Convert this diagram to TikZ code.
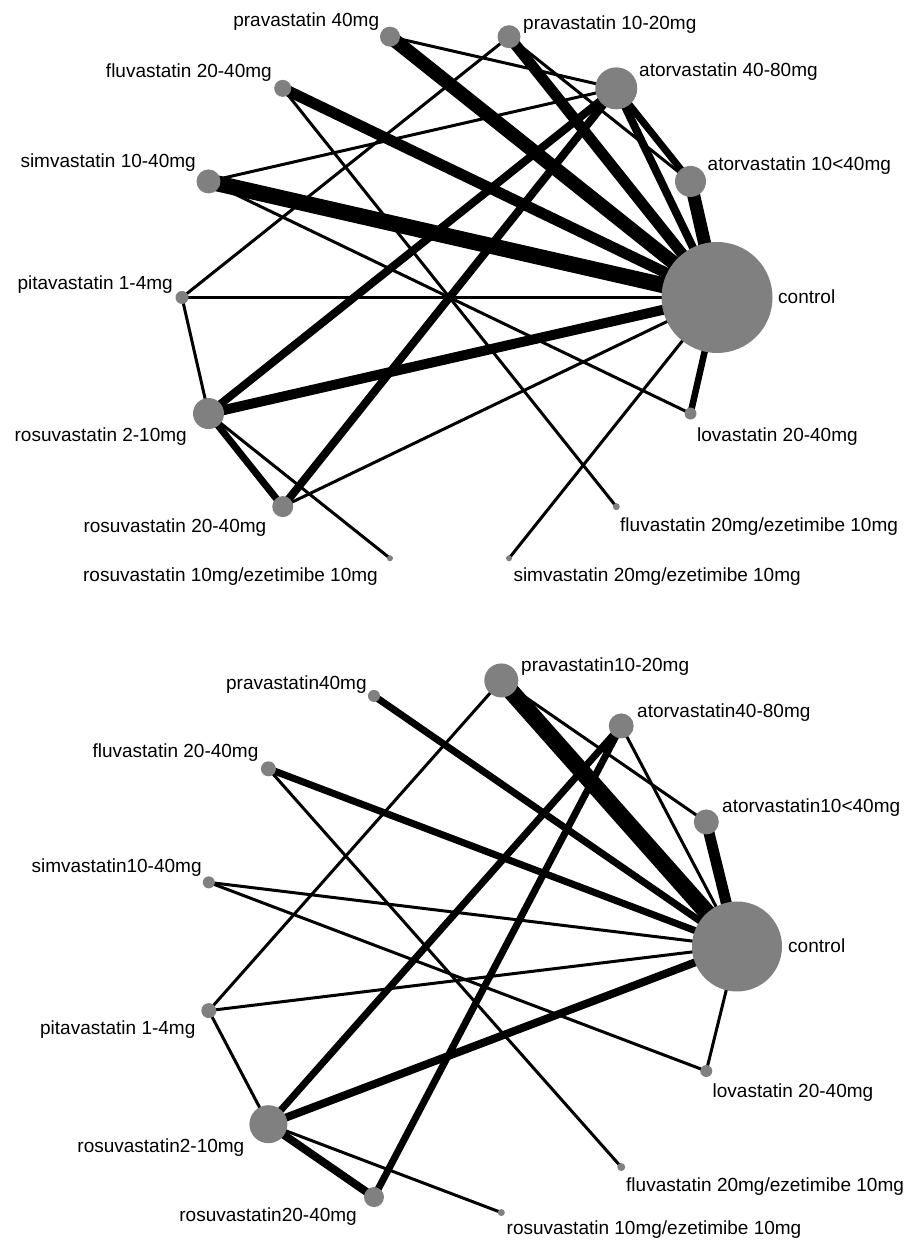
\documentclass[tikz,border=0pt]{standalone}
\usepackage{fontspec}
\setmainfont{Liberation Sans}
\usepackage{tikz}
\usetikzlibrary{backgrounds}
\usepackage{xcolor}
\definecolor{nodegray}{HTML}{808080}
\tikzset{
  drug/.style={circle, fill=nodegray, inner sep=0pt, outer sep=0pt},
  link/.style={draw=black, line cap=round},
  lbl/.style={inner sep=0pt, text=black},
  lblleft/.style={lbl, anchor=base east},
  lblright/.style={lbl, anchor=base west}
}

\begin{document}
\begin{tikzpicture}[x=1pt, y=1pt, font=\fontsize{19}{22}\selectfont]
  \useasboundingbox (0,0) rectangle (909,1241);

  \begin{scope}[shift={(449.5,943.5)}]
    \foreach \nm/\k/\d in {tCtrl/0/111, tA1040/1/31, tA4080/2/42, tP1020/3/23, tP40/4/20,
        tF2040/5/17, tS1040/6/24, tPit/7/13, tR210/8/31, tR2040/9/21, tR10E/10/6,
        tS20E/11/6, tF20E/12/7, tLov/13/12}
      \node[drug, minimum size=\d] (\nm) at (\k*360/14:267.5) {};
  \end{scope}

  \begin{scope}[shift={(469,294.5)}]
    \foreach \nm/\k/\d in {bCtrl/0/90, bA1040/1/25, bA4080/2/25, bP1020/3/34, bP40/4/12,
        bF2040/5/15, bS1040/6/12, bPit/7/15, bR210/8/38, bR2040/9/20, bR10E/10/7,
        bF20E/11/8, bLov/12/12}
      \node[drug, minimum size=\d] (\nm) at (\k*360/13:268) {};
  \end{scope}

  \begin{scope}[on background layer]
    \fill[white] (0,0) rectangle (909,1241);
    \foreach \a/\b/\w in {tP40/tCtrl/14, tP40/tA4080/3, tP1020/tCtrl/11, tP1020/tPit/3,
        tP1020/tA1040/3, tF2040/tCtrl/11, tF2040/tF20E/3, tS1040/tCtrl/16, tS1040/tA4080/3,
        tS1040/tLov/3, tPit/tCtrl/3, tPit/tR210/3, tR210/tCtrl/10, tR210/tA4080/8,
        tR210/tR2040/7, tR210/tR10E/3, tR2040/tA4080/8, tR2040/tCtrl/3, tS20E/tCtrl/3,
        tLov/tCtrl/6.5, tA1040/tCtrl/13, tA4080/tCtrl/8, tA4080/tA1040/7}
      \draw[link, line width=\w] (\a.center) -- (\b.center);
    \foreach \a/\b/\w in {bP40/bCtrl/7, bP1020/bCtrl/17, bP1020/bPit/3, bP1020/bA1040/3,
        bA4080/bR210/7, bA4080/bR2040/7, bA4080/bCtrl/3, bA1040/bCtrl/11, bF2040/bCtrl/7,
        bF2040/bF20E/3, bS1040/bCtrl/3, bS1040/bLov/3, bPit/bCtrl/3, bPit/bR210/3,
        bR210/bCtrl/8, bR210/bR2040/8, bR210/bR10E/3, bLov/bCtrl/3}
      \draw[link, line width=\w] (\a.center) -- (\b.center);
  \end{scope}

  \node[lblleft] (lP40) at (379.3,1214.3) {pravastatin 40mg};
  \node[lblright] (lP1020) at (523,1211.5) {pravastatin 10-20mg};
  \node[lblleft] (lF2040) at (272,1163.5) {fluvastatin 20-40mg};
  \node[lblright] (lA4080) at (639,1164.5) {atorvastatin 40-80mg};
  \node[lblleft] (lS1040) at (196,1073) {simvastatin 10-40mg};
  \node[lblright] (lA1040) at (707.5,1070) {atorvastatin 10<40mg};
  \node[lblleft] (lPit) at (173,951) {pitavastatin 1-4mg};
  \node[lblright] (lCtrl) at (778,937) {control};
  \node[lblleft] (lR210) at (187,799) {rosuvastatin 2-10mg};
  \node[lblright] (lLov) at (697,799) {lovastatin 20-40mg};
  \node[lblleft] (lR2040) at (266.5,708) {rosuvastatin 20-40mg};
  \node[lblright] (lF20E) at (620,709) {fluvastatin 20mg/ezetimibe 10mg};
  \node[lblleft] (lR10E) at (378,659) {rosuvastatin 10mg/ezetimibe 10mg};
  \node[lblright] (lS20E) at (513.3,659) {simvastatin 20mg/ezetimibe 10mg};

  \node[lblright] (lbP1020) at (521,569.3) {pravastatin10-20mg};
  \node[lblleft] (lbP40) at (366.8,551) {pravastatin40mg};
  \node[lblright] (lbA4080) at (637,523) {atorvastatin40-80mg};
  \node[lblleft] (lbF2040) at (258.6,483) {fluvastatin 20-40mg};
  \node[lblright] (lbA1040) at (722,428) {atorvastatin10<40mg};
  \node[lblleft] (lbS1040) at (201.8,368) {simvastatin10-40mg};
  \node[lblright] (lbCtrl) at (788,288) {control};
  \node[lblleft] (lbPit) at (195.6,206) {pitavastatin 1-4mg};
  \node[lblright] (lbLov) at (712.5,143) {lovastatin 20-40mg};
  \node[lblleft] (lbR210) at (244.5,88) {rosuvastatin2-10mg};
  \node[lblright] (lbF20E) at (626,49.3) {fluvastatin 20mg/ezetimibe 10mg};
  \node[lblleft] (lbR2040) at (357,19.3) {rosuvastatin20-40mg};
  \node[lblright] (lbR10E) at (506.5,6) {rosuvastatin 10mg/ezetimibe 10mg};
\end{tikzpicture}
\end{document}
